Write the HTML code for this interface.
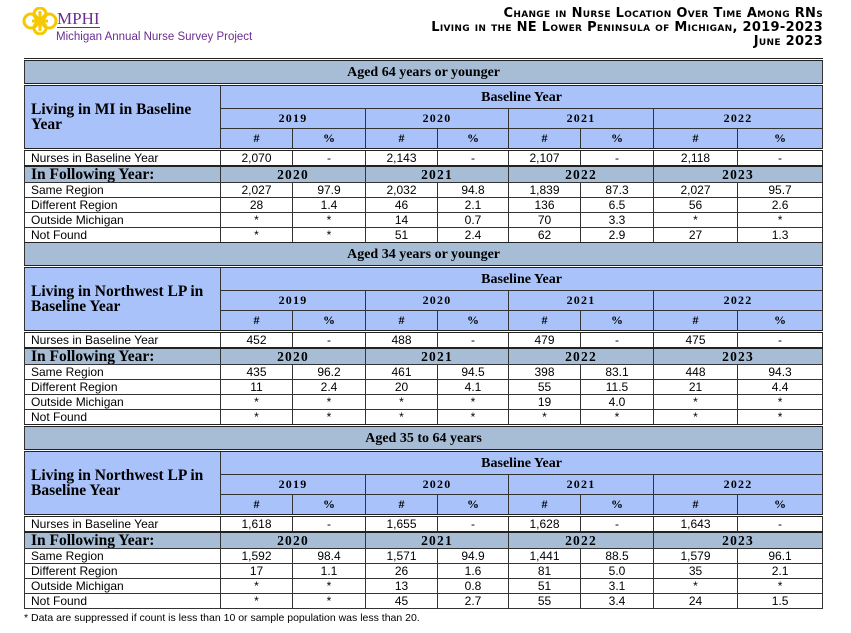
<!DOCTYPE html>
<html><head><meta charset="utf-8"><style>
body{margin:0;width:851px;height:633px;background:#fff;position:relative;overflow:hidden;font-family:"Liberation Sans",Arial,sans-serif}
.title{position:absolute;right:28px;top:7px;text-align:right;font-family:"DejaVu Sans",sans-serif;font-weight:bold;font-variant:small-caps;font-size:13px;line-height:14px;color:#000;letter-spacing:0.3px}
.sec{position:absolute;left:24px;width:798px;border-collapse:collapse;table-layout:fixed}
.sec td{border:1px solid #333;padding:0;text-align:center;font-size:12px;line-height:13px;white-space:nowrap;overflow:hidden}
.band td{background:#a7bdd6;font-family:"Liberation Serif",serif;font-weight:bold;font-size:14px;height:22px;border-top:3px double #222;border-bottom:3px double #222}
.hd td{background:#a9c2f9;font-family:"Liberation Serif",serif;font-weight:bold}
.hd td.lab{text-align:left;padding-left:6px;font-size:15.5px;line-height:15px}
.yr{letter-spacing:1.2px;font-size:13.5px}
.fy td{background:#a7bdd6;font-family:"Liberation Serif",serif;font-weight:bold;font-size:13.5px;height:15px;border-top:2px solid #222}
.fy td.l{text-align:left;padding-left:6px;font-size:15.5px;letter-spacing:0}
.r td{height:14px}
.r td.l{text-align:left;padding-left:6px}
.nb td{border-top:3px double #222;height:14px}
.last td{border-bottom:3px double #222}
</style></head><body>
<svg style="position:absolute;left:22px;top:7px" width="36" height="28" viewBox="0 0 36 28">
<g fill="none" stroke="#f6c800" stroke-width="3"><circle cx="9" cy="14" r="7"/><circle cx="27" cy="14" r="7"/><circle cx="18" cy="7" r="6"/><circle cx="18" cy="21" r="6"/><line x1="10" y1="14" x2="26" y2="14"/><line x1="18" y1="4" x2="18" y2="24"/></g></svg>
<div style="position:absolute;left:57px;top:10px;font-family:'Liberation Serif',serif;font-size:17px;color:#6b2c91;line-height:17px;border-bottom:1px solid #6b2c91">MPHI</div>
<div style="position:absolute;left:56px;top:31px;font-size:11.5px;color:#6b2c91;line-height:13px">Michigan Annual Nurse Survey Project</div>
<div class="title">Change in Nurse Location Over Time Among RNs<br>Living in the NE Lower Peninsula of Michigan, 2019-2023<br>June 2023</div>

<table class="sec" style="top:58px">
<colgroup><col style="width:196px"><col style="width:72px"><col style="width:73px"><col style="width:72px"><col style="width:71px"><col style="width:72px"><col style="width:73px"><col style="width:84px"><col style="width:85px"></colgroup>
<tr class="band"><td colspan="9">Aged 64 years or younger</td></tr>
<tr class="hd"><td class="lab" rowspan="3">Living in MI in Baseline<br>Year</td><td colspan="8" style="height:22px;font-size:14px">Baseline Year</td></tr>
<tr class="hd"><td colspan="2" class="yr" style="height:19px">2019</td><td colspan="2" class="yr">2020</td><td colspan="2" class="yr">2021</td><td colspan="2" class="yr">2022</td></tr>
<tr class="hd"><td style="height:19px">#</td><td>%</td><td>#</td><td>%</td><td>#</td><td>%</td><td>#</td><td>%</td></tr>
<tr class="r nb"><td class="l">Nurses in Baseline Year</td><td>2,070</td><td>-</td><td>2,143</td><td>-</td><td>2,107</td><td>-</td><td>2,118</td><td>-</td></tr>
<tr class="fy"><td class="l">In Following Year:</td><td colspan="2" class="yr">2020</td><td colspan="2" class="yr">2021</td><td colspan="2" class="yr">2022</td><td colspan="2" class="yr">2023</td></tr>
<tr class="r"><td class="l">Same Region</td><td>2,027</td><td>97.9</td><td>2,032</td><td>94.8</td><td>1,839</td><td>87.3</td><td>2,027</td><td>95.7</td></tr>
<tr class="r"><td class="l">Different Region</td><td>28</td><td>1.4</td><td>46</td><td>2.1</td><td>136</td><td>6.5</td><td>56</td><td>2.6</td></tr>
<tr class="r"><td class="l">Outside Michigan</td><td>*</td><td>*</td><td>14</td><td>0.7</td><td>70</td><td>3.3</td><td>*</td><td>*</td></tr>
<tr class="r last"><td class="l">Not Found</td><td>*</td><td>*</td><td>51</td><td>2.4</td><td>62</td><td>2.9</td><td>27</td><td>1.3</td></tr>
</table>

<table class="sec" style="top:243px">
<colgroup><col style="width:196px"><col style="width:72px"><col style="width:73px"><col style="width:72px"><col style="width:71px"><col style="width:72px"><col style="width:73px"><col style="width:84px"><col style="width:85px"></colgroup>
<tr class="band"><td colspan="9" style="border-top:none">Aged 34 years or younger</td></tr>
<tr class="hd"><td class="lab" rowspan="3">Living in Northwest LP in<br>Baseline Year</td><td colspan="8" style="height:22px;font-size:14px">Baseline Year</td></tr>
<tr class="hd"><td colspan="2" class="yr" style="height:19px">2019</td><td colspan="2" class="yr">2020</td><td colspan="2" class="yr">2021</td><td colspan="2" class="yr">2022</td></tr>
<tr class="hd"><td style="height:19px">#</td><td>%</td><td>#</td><td>%</td><td>#</td><td>%</td><td>#</td><td>%</td></tr>
<tr class="r nb"><td class="l">Nurses in Baseline Year</td><td>452</td><td>-</td><td>488</td><td>-</td><td>479</td><td>-</td><td>475</td><td>-</td></tr>
<tr class="fy"><td class="l">In Following Year:</td><td colspan="2" class="yr">2020</td><td colspan="2" class="yr">2021</td><td colspan="2" class="yr">2022</td><td colspan="2" class="yr">2023</td></tr>
<tr class="r"><td class="l">Same Region</td><td>435</td><td>96.2</td><td>461</td><td>94.5</td><td>398</td><td>83.1</td><td>448</td><td>94.3</td></tr>
<tr class="r"><td class="l">Different Region</td><td>11</td><td>2.4</td><td>20</td><td>4.1</td><td>55</td><td>11.5</td><td>21</td><td>4.4</td></tr>
<tr class="r"><td class="l">Outside Michigan</td><td>*</td><td>*</td><td>*</td><td>*</td><td>19</td><td>4.0</td><td>*</td><td>*</td></tr>
<tr class="r last"><td class="l">Not Found</td><td>*</td><td>*</td><td>*</td><td>*</td><td>*</td><td>*</td><td>*</td><td>*</td></tr>
</table>

<table class="sec" style="top:427px">
<colgroup><col style="width:196px"><col style="width:72px"><col style="width:73px"><col style="width:72px"><col style="width:71px"><col style="width:72px"><col style="width:73px"><col style="width:84px"><col style="width:85px"></colgroup>
<tr class="band"><td colspan="9" style="border-top:none">Aged 35 to 64 years</td></tr>
<tr class="hd"><td class="lab" rowspan="3">Living in Northwest LP in<br>Baseline Year</td><td colspan="8" style="height:22px;font-size:14px">Baseline Year</td></tr>
<tr class="hd"><td colspan="2" class="yr" style="height:19px">2019</td><td colspan="2" class="yr">2020</td><td colspan="2" class="yr">2021</td><td colspan="2" class="yr">2022</td></tr>
<tr class="hd"><td style="height:19px">#</td><td>%</td><td>#</td><td>%</td><td>#</td><td>%</td><td>#</td><td>%</td></tr>
<tr class="r nb"><td class="l">Nurses in Baseline Year</td><td>1,618</td><td>-</td><td>1,655</td><td>-</td><td>1,628</td><td>-</td><td>1,643</td><td>-</td></tr>
<tr class="fy"><td class="l">In Following Year:</td><td colspan="2" class="yr">2020</td><td colspan="2" class="yr">2021</td><td colspan="2" class="yr">2022</td><td colspan="2" class="yr">2023</td></tr>
<tr class="r"><td class="l">Same Region</td><td>1,592</td><td>98.4</td><td>1,571</td><td>94.9</td><td>1,441</td><td>88.5</td><td>1,579</td><td>96.1</td></tr>
<tr class="r"><td class="l">Different Region</td><td>17</td><td>1.1</td><td>26</td><td>1.6</td><td>81</td><td>5.0</td><td>35</td><td>2.1</td></tr>
<tr class="r"><td class="l">Outside Michigan</td><td>*</td><td>*</td><td>13</td><td>0.8</td><td>51</td><td>3.1</td><td>*</td><td>*</td></tr>
<tr class="r"><td class="l">Not Found</td><td>*</td><td>*</td><td>45</td><td>2.7</td><td>55</td><td>3.4</td><td>24</td><td>1.5</td></tr>
</table>
<div style="position:absolute;left:24px;top:612px;font-size:10.5px;line-height:12px">* Data are suppressed if count is less than 10 or sample population was less than 20.</div>
</body></html>
